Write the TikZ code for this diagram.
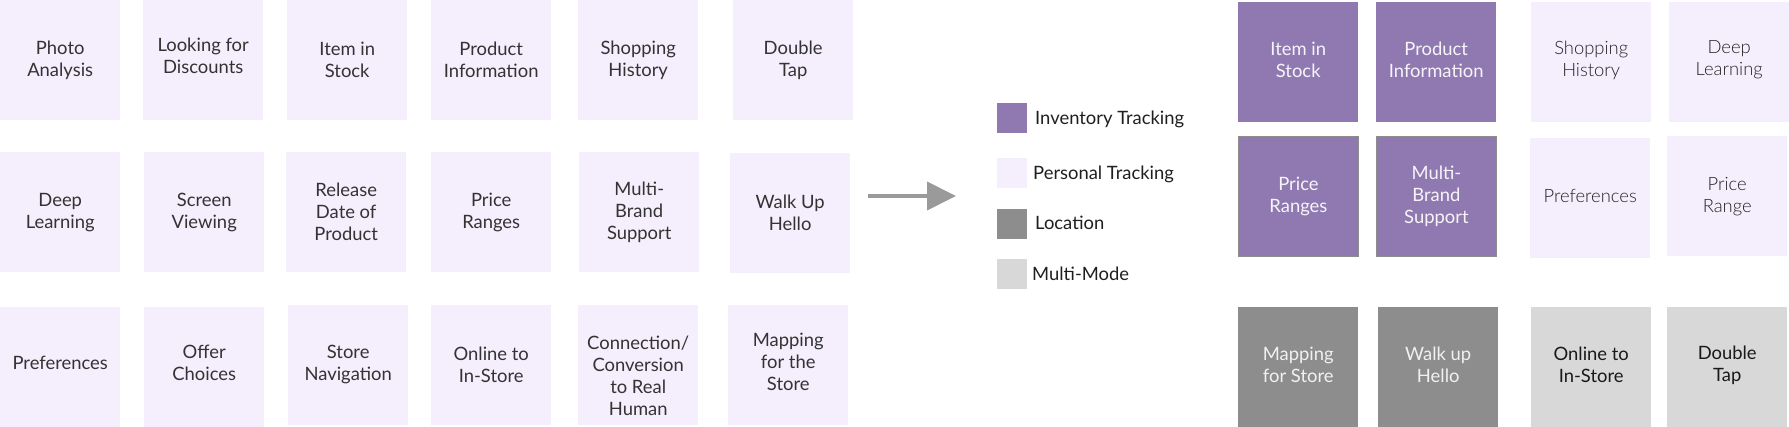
\documentclass[tikz,border=0pt]{standalone}
\usepackage{fontspec}
\setmainfont{Lato}
\newfontfamily\latolight{Lato Light}
\usetikzlibrary{arrows.meta}
\definecolor{lpurple}{HTML}{F4EEFD}
\definecolor{dpurple}{HTML}{9079B1}
\definecolor{dgray}{HTML}{8E8D8D}
\definecolor{lgray}{HTML}{D8D8D8}
\definecolor{txt}{HTML}{333333}
\definecolor{arrowgray}{HTML}{9A9A9A}
\tikzset{
  card/.style={rectangle, anchor=north west, minimum width=120pt, minimum height=120pt, inner sep=0pt},
  ctxt/.style={inner sep=0pt, align=center, font=\fontsize{18.4}{22}\selectfont},
  pcard/.style={card, fill=lpurple},
  ptxt/.style={ctxt, text=txt},
  icard/.style={card, fill=dpurple},
  icardb/.style={icard, draw=dgray, line width=0.8pt},
  itxt/.style={ctxt, text=white!92!dpurple},
  lcard/.style={card, fill=dgray},
  ltxt/.style={ctxt, text=white!88!dgray},
  mcard/.style={card, fill=lgray},
  mtxt/.style={ctxt, text=black!90},
  rtxt/.style={ctxt, text=black!86, font=\fontsize{18.4}{22}\selectfont\latolight},
  swatch/.style={rectangle, anchor=north west, minimum width=30pt, minimum height=30pt, inner sep=0pt},
  legtxt/.style={anchor=west, inner sep=0pt, text=black!88, font=\fontsize{18.4}{22}\selectfont},
}
\begin{document}
\begin{tikzpicture}[x=1pt, y=-1pt]
\useasboundingbox (0,0) rectangle (1789,427);
% left grid, row 1
\node[pcard] (a1) at (0,0) {};   \node[ptxt] (a1t) at (a1) {Photo\\Analysis};
\node[pcard] (a2) at (143,0) {}; \node[ptxt] (a2t) at ([yshift=4.5pt]a2.center) {Looking for\\Discounts};
\node[pcard] (a3) at (287,0) {}; \node[ptxt] (a3t) at (a3) {Item in\\Stock};
\node[pcard] (a4) at (431,0) {}; \node[ptxt] (a4t) at (a4) {Product\\Information};
\node[pcard] (a5) at (578,0) {}; \node[ptxt] (a5t) at (a5) {Shopping\\History};
\node[pcard] (a6) at (733,0) {}; \node[ptxt] (a6t) at (a6) {Double\\Tap};
% row 2
\node[pcard] (b1) at (0,152) {};   \node[ptxt] (b1t) at (b1) {Deep\\Learning};
\node[pcard] (b2) at (144,152) {}; \node[ptxt] (b2t) at (b2) {Screen\\Viewing};
\node[pcard] (b3) at (286,152) {}; \node[ptxt] (b3t) at (b3) {Release\\Date of\\Product};
\node[pcard] (b4) at (431,152) {}; \node[ptxt] (b4t) at (b4) {Price\\Ranges};
\node[pcard] (b5) at (579,152) {}; \node[ptxt] (b5t) at (b5) {Multi-\\Brand\\Support};
\node[pcard] (b6) at (730,153) {}; \node[ptxt] (b6t) at (b6) {Walk Up\\Hello};
% row 3
\node[pcard] (c1) at (0,307) {};   \node[ptxt] (c1t) at ([yshift=4pt]c1.center) {Preferences};
\node[pcard] (c2) at (144,307) {}; \node[ptxt] (c2t) at ([yshift=4pt]c2.center) {Offer\\Choices};
\node[pcard] (c3) at (288,305) {}; \node[ptxt] (c3t) at ([yshift=1pt]c3.center) {Store\\Navigation};
\node[pcard] (c4) at (431,305) {}; \node[ptxt] (c4t) at (c4) {Online to\\In-Store};
\node[pcard] (c5) at (578,305) {}; \node[ptxt] (c5t) at ([yshift=-11pt]c5.center) {Connection/\\Conversion\\to Real\\Human};
\node[pcard] (c6) at (728,305) {}; \node[ptxt] (c6t) at ([yshift=3.5pt]c6.center) {Mapping\\for the\\Store};
% arrow
\coordinate (arrs) at (868,196);
\coordinate (arre) at (956,196);
\draw[arrowgray, line width=4pt, -{Triangle[length=29pt,width=28pt]}] (arrs) -- (arre);
% legend
\node[swatch, fill=dpurple] (s1) at (997,103) {};
\node[legtxt] (l1) at (1035,119) {Inventory Tracking};
\node[swatch, fill=lpurple] (s2) at (997,158) {};
\node[legtxt] (l2) at (1033,174) {Personal Tracking};
\node[swatch, fill=dgray] (s3) at (997,209) {};
\node[legtxt] (l3) at (1035,223) {Location};
\node[swatch, fill=lgray] (s4) at (997,259) {};
\node[legtxt] (l4) at (1032,274) {Multi-Mode};
% right grid
\node[icard] (r1) at (1238,2) {};   \node[itxt] (r1t) at ([yshift=2pt]r1.center) {Item in\\Stock};
\node[icard] (r2) at (1376,2) {};   \node[itxt] (r2t) at ([yshift=2pt]r2.center) {Product\\Information};
\node[pcard] (r3) at (1531,2) {};   \node[rtxt] (r3t) at ([yshift=2pt]r3.center) {Shopping\\History};
\node[pcard] (r4) at (1669,2) {};   \node[rtxt] (r4t) at ([yshift=2pt]r4.center) {Deep\\Learning};
\node[icardb] (r5) at (1238,136) {}; \node[itxt] (r5t) at (r5) {Price\\Ranges};
\node[icardb] (r6) at (1376,136) {}; \node[itxt] (r6t) at (r6) {Multi-\\Brand\\Support};
\node[pcard] (r7) at (1530,138) {};  \node[rtxt] (r7t) at ([yshift=2pt]r7.center) {Preferences};
\node[pcard] (r8) at (1667,136) {};  \node[rtxt] (r8t) at (r8) {Price\\Range};
\node[lcard] (r9) at (1238,307) {};  \node[ltxt] (r9t) at ([yshift=2pt]r9.center) {Mapping\\for Store};
\node[lcard] (r10) at (1378,307) {}; \node[ltxt] (r10t) at ([yshift=2pt]r10.center) {Walk up\\Hello};
\node[mcard] (r11) at (1531,307) {}; \node[mtxt] (r11t) at ([yshift=2pt]r11.center) {Online to\\In-Store};
\node[mcard] (r12) at (1667,307) {}; \node[mtxt] (r12t) at ([yshift=2pt]r12.center) {Double\\Tap};
\end{tikzpicture}
\end{document}
